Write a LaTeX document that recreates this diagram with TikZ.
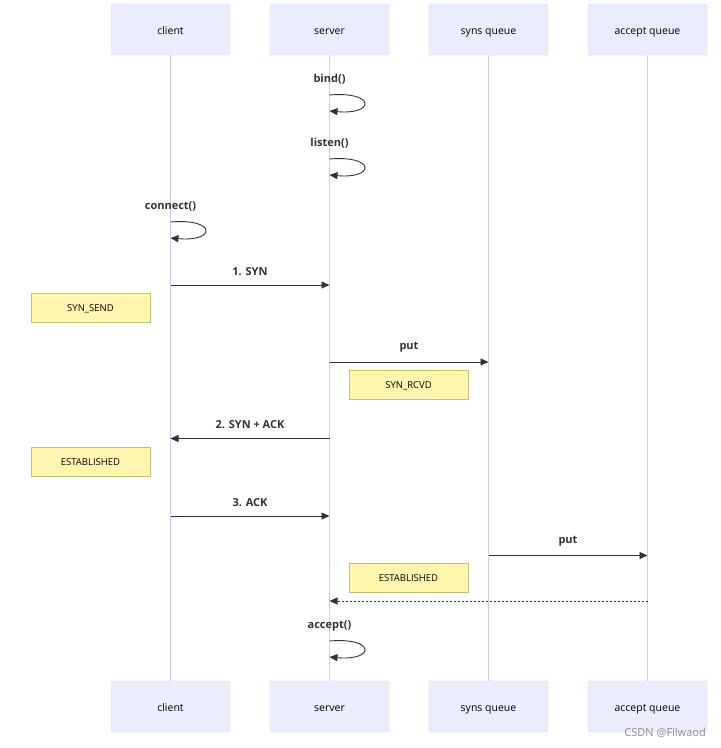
\documentclass[tikz,border=0pt]{standalone}
\usepackage{fontspec}
\setmainfont{Open Sans}
\usetikzlibrary{arrows.meta}
\definecolor{actfill}{HTML}{ECECFF}
\definecolor{actline}{HTML}{DCD8F2}
\definecolor{lifeline}{HTML}{D3C8F5}
\definecolor{notefill}{HTML}{FFF5AD}
\definecolor{noteline}{HTML}{C8C466}
\definecolor{msgline}{HTML}{333333}
\tikzset{
  actor/.style={draw=actline, fill=actfill, rounded corners=2pt, minimum width=119pt, minimum height=51pt, inner sep=0pt, text height=10.5pt, text depth=1pt, font=\fontsize{10.5}{12}\selectfont, text=black},
  notebox/.style={draw=noteline, fill=notefill, minimum width=119pt, minimum height=29pt, inner sep=0pt, text height=7pt, text depth=0pt, font=\fontsize{9.5}{11}\selectfont, text=black},
  life/.style={draw=lifeline, line width=1.5pt},
  msg/.style={draw=msgline, line width=0.9pt, -{Triangle[length=8pt,width=7pt]}},
  dmsg/.style={msg, dash pattern=on 2pt off 2pt},
  lbl/.style={font=\bfseries\fontsize{11}{13}\selectfont, text=msgline, inner sep=0pt},
}
\begin{document}
\begin{tikzpicture}[x=1pt,y=-1pt]
\useasboundingbox (0,0) rectangle (721,748);
% lifelines
\foreach \n/\x in {c/170.5,s/329.5,q/488.5,a/647.5}{
  \coordinate (\n top) at (\x,55);
  \coordinate (\n bot) at (\x,681);
  \draw[life] (\n top) -- (\n bot);
}
% actors
\node[actor] (ct) at (170.5,29.5) {client};
\node[actor] (st) at (329.5,29.5) {server};
\node[actor] (qt) at (488.5,29.5) {syns queue};
\node[actor] (at) at (647.5,29.5) {accept queue};
\node[actor] (cb) at (170.5,706.5) {client};
\node[actor] (sb) at (329.5,706.5) {server};
\node[actor] (qb) at (488.5,706.5) {syns queue};
\node[actor] (ab) at (647.5,706.5) {accept queue};
% self loops
\newcommand{\selfloop}[4]{%
  \coordinate (#1a) at (#2,#3);
  \coordinate (#1b) at (#2,#3+16);
  \node[lbl] (#1l) at (#2,#3-15.5) {#4};
  \draw[msg] (#1a) .. controls ++(46,-4) and ++(46,4) .. (#1b);
}
\selfloop{bind}{329.5}{95}{bind()}
\selfloop{listen}{329.5}{159}{listen()}
\selfloop{conn}{170.5}{222}{connect()}
\selfloop{acc}{329.5}{641}{accept()}
% messages
\coordinate (m1a) at (170.5,285); \coordinate (m1b) at (329.5,285);
\draw[msg] (m1a) -- node[lbl, above=9pt] (m1l) {1. SYN} (m1b);
\node[notebox] (n1) at (90.5,307.5) {SYN\_SEND};
\coordinate (m2a) at (329.5,362); \coordinate (m2b) at (488.5,362);
\draw[msg] (m2a) -- node[lbl, above=9pt] (m2l) {put} (m2b);
\node[notebox] (n2) at (408.5,384.5) {SYN\_RCVD};
\coordinate (m3a) at (329.5,438.5); \coordinate (m3b) at (170.5,438.5);
\draw[msg] (m3a) -- node[lbl, above=9pt] (m3l) {2. SYN + ACK} (m3b);
\node[notebox] (n3) at (90.5,461.5) {ESTABLISHED};
\coordinate (m4a) at (170.5,516); \coordinate (m4b) at (329.5,516);
\draw[msg] (m4a) -- node[lbl, above=9pt] (m4l) {3. ACK} (m4b);
\coordinate (m5a) at (488.5,555.5); \coordinate (m5b) at (647.5,555.5);
\draw[msg] (m5a) -- node[lbl, above=9pt] (m5l) {put} (m5b);
\node[notebox] (n4) at (408.5,577.5) {ESTABLISHED};
\coordinate (m6a) at (647.5,601); \coordinate (m6b) at (329.5,601);
\draw[dmsg] (m6a) -- (m6b);
% watermark
\node[font=\fontsize{11}{13}\selectfont, text=black!45, anchor=east, inner sep=0pt] (wm) at (706,733) {CSDN @Filwaod};
\end{tikzpicture}
\end{document}
